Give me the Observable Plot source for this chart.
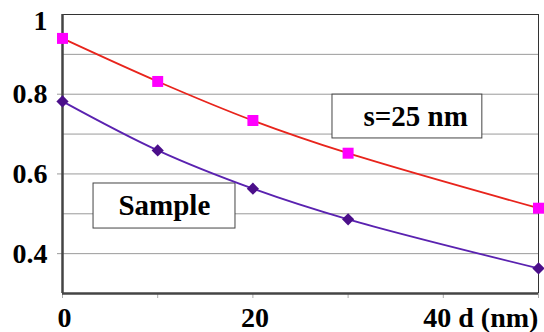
<!DOCTYPE html>
<html><head><meta charset="utf-8">
<script src="https://cdn.jsdelivr.net/npm/d3@7"></script>
<script src="https://cdn.jsdelivr.net/npm/@observablehq/plot@0.6"></script>
<style>html,body{margin:0;padding:0;background:#fff}svg{display:block}
svg text{font-family:"Liberation Serif","DejaVu Serif",serif !important;font-weight:bold}</style>
</head><body><div id="chart"></div>
<script>
const dValues = [0, 10, 20, 30, 50];
const s25Values = [0.940, 0.832, 0.734, 0.652, 0.514];
const sampleValues = [0.782, 0.659, 0.563, 0.486, 0.363];
const gridValues = [0.4, 0.5, 0.6, 0.7, 0.8, 0.9];
const yTicks = [0.4, 0.6, 0.8];
const yTickLabels = ["0.4", "0.6", "0.8"];
const yTopTick = [1];
const yTopLabel = ["1"];
const xTicks = [0, 20];
const xTickLabels = ["0", "20"];
const xLastTick = [40];
const xLastLabel = ["40 d (nm)"];
const xMinorTicks = [0, 10, 20, 30, 40, 50];
const legendLabels = ["Sample", "s=25 nm"];

const s25 = dValues.map((d, i) => ({d, v: s25Values[i]}));
const sample = dValues.map((d, i) => ({d, v: sampleValues[i]}));

const font = "Liberation Serif, DejaVu Serif, serif";
const chart = Plot.plot({
  width: 544, height: 332,
  marginLeft: 62, marginRight: 6, marginTop: 14, marginBottom: 39,
  style: {fontFamily: font, fontWeight: "bold", background: "#fff", color: "#000"},
  x: {domain: [0, 50]},
  y: {domain: [0.3, 1]},
  marks: [
    Plot.ruleY(gridValues, {stroke: "#9a9a9a", strokeWidth: 1}),
    Plot.frame({stroke: "#333", strokeWidth: 1}),
    Plot.axisY({ticks: yTicks, tickSize: 5, tickPadding: 10, stroke: "#9a9a9a",
      tickFormat: d => yTickLabels[yTicks.indexOf(d)], fontSize: 28, fontFamily: font, label: null, fill: "#000"}),
    Plot.text(yTopTick, {x: 0, y: d => d, text: (d, i) => yTopLabel[i], textAnchor: "end", dx: -15, dy: 7,
      fontSize: 28, fontFamily: font, fontWeight: "bold", fill: "#000"}),
    Plot.axisX({ticks: xMinorTicks, tickSize: 5, stroke: "#aaa", tickFormat: () => "", label: null}),
    Plot.axisX({ticks: xTicks, tickSize: 0, tickPadding: 14, dx: 2,
      tickFormat: d => xTickLabels[xTicks.indexOf(d)], fontSize: 28, fontFamily: font, label: null, fill: "#000"}),
    Plot.text(xLastTick, {x: d => d, y: 0.3, text: (d, i) => xLastLabel[i], textAnchor: "start", lineAnchor: "top",
      dx: -20, dy: 14, fontSize: 28, fontFamily: font, fontWeight: "bold", fill: "#000"}),
    Plot.ruleX([0], {stroke: "#444", strokeWidth: 2.5}),
    Plot.ruleY([0.3], {stroke: "#444", strokeWidth: 2.5}),
    Plot.rect([0], {x1: 3.26, x2: 18.17, y1: 0.463, y2: 0.576, fill: "#fff", stroke: "#444", strokeWidth: 1}),
    Plot.rect([0], {x1: 28.36, x2: 44.1, y1: 0.689, y2: 0.799, fill: "#fff", stroke: "#444", strokeWidth: 1}),
    Plot.text([legendLabels[0]], {x: 10.7, y: 0.52, text: d => d, fontSize: 29, fontFamily: font, fontWeight: "bold", fill: "#000"}),
    Plot.text([legendLabels[1]], {x: 37.1, y: 0.744, text: d => d, fontSize: 29, fontFamily: font, fontWeight: "bold", fill: "#000"}),
    Plot.line(s25, {x: "d", y: "v", stroke: "#e8241c", strokeWidth: 1.8, curve: "catmull-rom"}),
    Plot.line(sample, {x: "d", y: "v", stroke: "#5a22b0", strokeWidth: 1.8, curve: "catmull-rom"}),
    Plot.dot(s25, {x: "d", y: "v", symbol: "square", r: 6.2, fill: "#ff00ff", stroke: "none"}),
    Plot.dot(sample, {x: "d", y: "v", symbol: "diamond2", r: 5.5, fill: "#4b0f8a", stroke: "none"})
  ]
});
document.getElementById("chart").append(chart);
</script>
</body></html>
